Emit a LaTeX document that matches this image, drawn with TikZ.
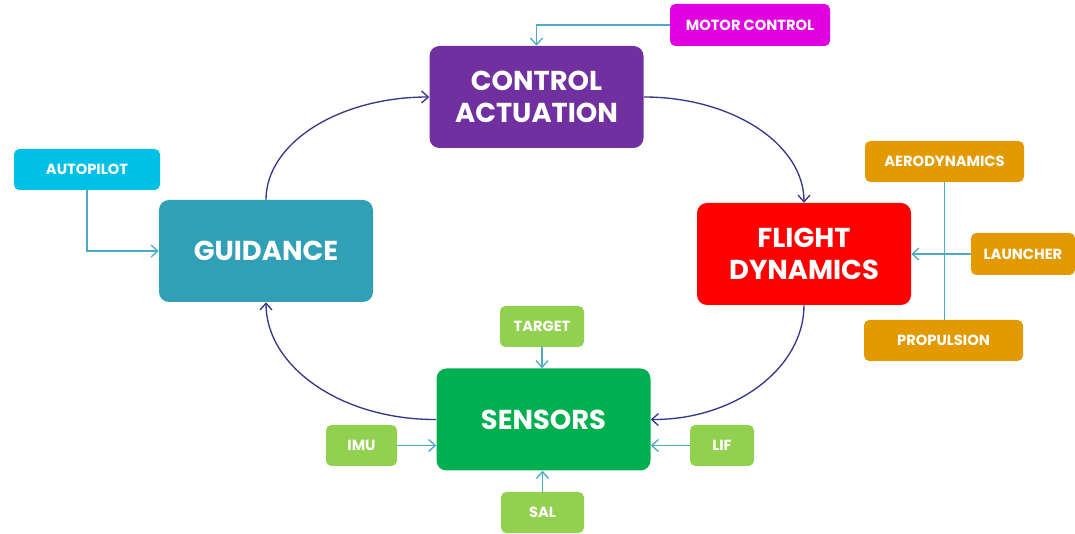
\documentclass[tikz,border=0pt]{standalone}
\usepackage{fontspec}
\setmainfont{Poppins}
\usetikzlibrary{arrows.meta}
\definecolor{cmag}{HTML}{E000E0}
\definecolor{cpur}{HTML}{7030A0}
\definecolor{ccyan}{HTML}{00C0E6}
\definecolor{cteal}{HTML}{31A0B6}
\definecolor{cred}{HTML}{FF0000}
\definecolor{corange}{HTML}{E39A00}
\definecolor{cgreen}{HTML}{00B050}
\definecolor{clgreen}{HTML}{92D050}
\definecolor{cnavy}{RGB}{55,55,140}
\definecolor{cline}{RGB}{75,172,198}
\tikzset{
  bigbox/.style={rounded corners=7.5pt, text=white, align=center, font=\fontsize{20.5}{24}\selectfont\bfseries, minimum width=160.5pt, minimum height=76.5pt, inner sep=0pt},
  smallbox/.style={rounded corners=4pt, text=white, align=center, font=\fontsize{11}{13}\selectfont\bfseries, minimum height=30.75pt, inner sep=0pt},
  cyc/.style={draw=cnavy, line width=1pt, -{Straight Barb[length=5pt,width=9pt]}},
  feed/.style={draw=cline, line width=1pt, -{Straight Barb[length=5pt,width=9pt]}},
  feedline/.style={draw=cline, line width=1pt}
}
\begin{document}
\begin{tikzpicture}[x=0.75pt,y=-0.75pt]
\path[use as bounding box] (0,0) rectangle (1075,534);
% main boxes
\node[bigbox, fill=cpur] (ca) at (536.5,97) {CONTROL\\ACTUATION};
\node[bigbox, fill=cteal] (gd) at (266,251) {GUIDANCE};
\node[bigbox, fill=cred] (fd) at (804,254) {FLIGHT\\DYNAMICS};
\node[bigbox, fill=cgreen] (se) at (543.5,419.5) {SENSORS};
% small boxes
\node[smallbox, fill=cmag, minimum width=120pt, minimum height=31.5pt] (mc) at (750,25) {MOTOR CONTROL};
\node[smallbox, fill=ccyan, minimum width=109.5pt] (ap) at (87,169.5) {AUTOPILOT};
\node[smallbox, fill=corange, minimum width=119.25pt] (ae) at (944.5,161.5) {AERODYNAMICS};
\node[smallbox, fill=corange, minimum width=78pt, minimum height=31.5pt] (la) at (1023,254) {LAUNCHER};
\node[smallbox, fill=corange, minimum width=119.25pt] (pr) at (943.5,340.5) {PROPULSION};
\node[smallbox, fill=clgreen, minimum width=63pt] (tg) at (542,326.5) {TARGET};
\node[smallbox, fill=clgreen, minimum width=53.25pt] (imu) at (361.5,445.5) {IMU};
\node[smallbox, fill=clgreen, minimum width=48pt] (lif) at (722,445.5) {LIF};
\node[smallbox, fill=clgreen, minimum width=62.25pt] (sal) at (542.5,512.5) {SAL};
% cycle arcs
\draw[cyc] (gd.north) .. controls (266,143) and (339,97) .. (ca.west);
\draw[cyc] (ca.east) .. controls (732,97) and (804,144) .. (fd.north);
\draw[cyc] (fd.south) .. controls (804,368) and (735,420) .. (se.east);
\draw[cyc] (se.west) .. controls (342,420) and (266,367) .. (gd.south);
% feeders
\draw[feed] (mc.west) -| (ca.north);
\draw[feed] (ap.south) |- (gd.west);
\draw[feedline] (ae.south) -- (ae.south |- pr.north);
\draw[feed] (la.west) -- (fd.east);
\draw[feed] (tg.south) -- (tg.south |- se.north);
\draw[feed] (imu.east) -- (imu.east -| se.west);
\draw[feed] (lif.west) -- (lif.west -| se.east);
\draw[feed] (sal.north) -- (sal.north |- se.south);
\end{tikzpicture}
\end{document}
